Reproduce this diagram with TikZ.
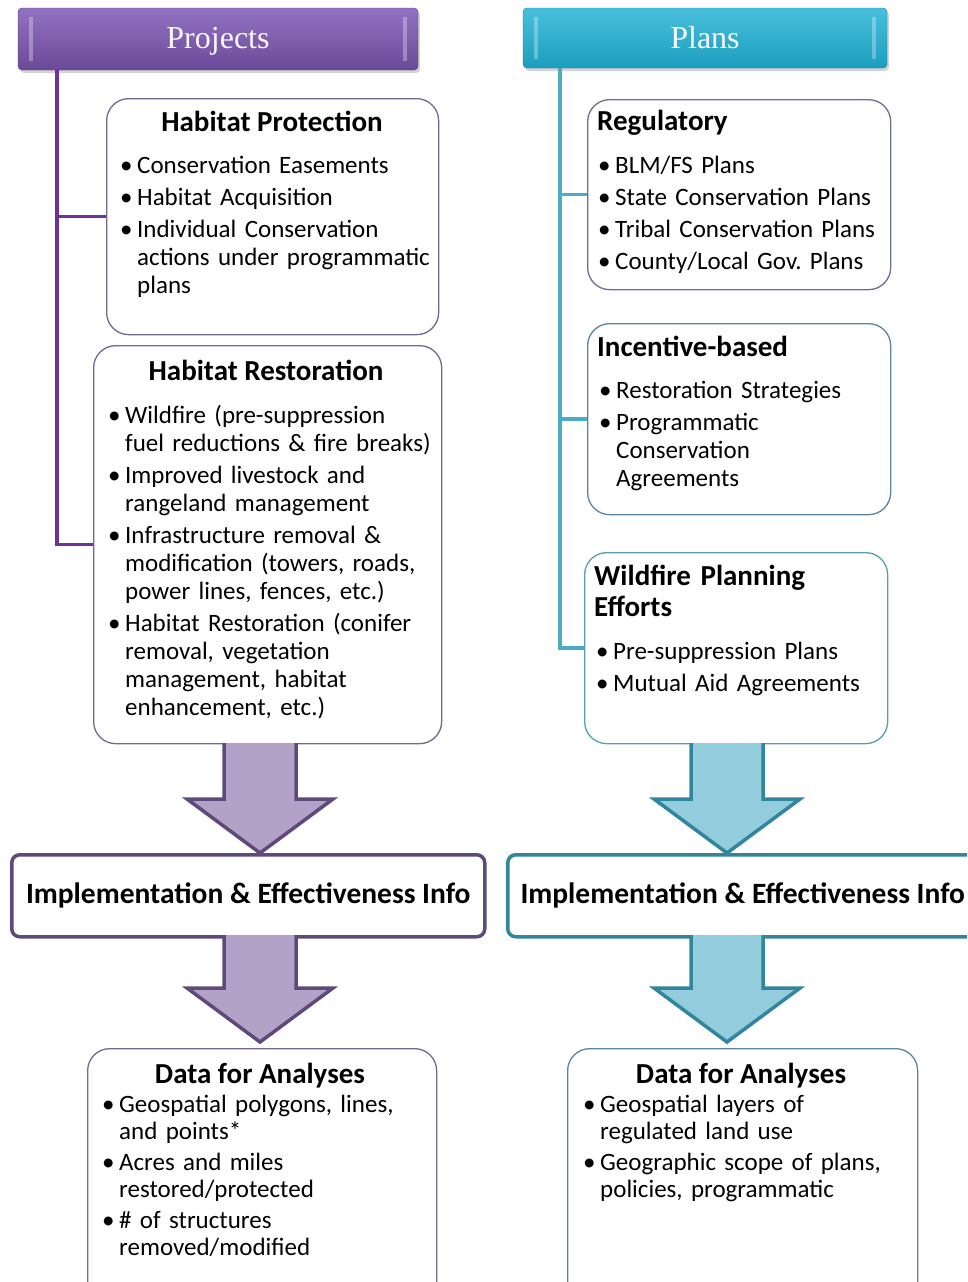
\documentclass[tikz,border=0pt]{standalone}
\usepackage{fontspec}
\setmainfont{Carlito}
\newfontfamily\headfont{Liberation Serif}
\usetikzlibrary{calc,shadows}

\definecolor{projdark}{HTML}{6A4A98}
\definecolor{projlight}{HTML}{9272C2}
\definecolor{plandark}{HTML}{1C9DBE}
\definecolor{planlight}{HTML}{48C0DC}
\definecolor{projline}{HTML}{7030A0}
\definecolor{planline}{HTML}{4BACC6}
\definecolor{projedge}{HTML}{5F497A}
\definecolor{planedge}{HTML}{31859C}
\definecolor{projfill}{HTML}{B3A2C7}
\definecolor{planfill}{HTML}{93CDDD}
\definecolor{projbox}{HTML}{75688F}
\definecolor{planbox}{HTML}{5C83A0}

% bullet item with hanging indent
\newcommand{\bitem}[1]{\hangindent=17pt\hangafter=1\noindent\makebox[17pt][l]{\textbullet}#1\par}

% big block arrow from one point down to another
\newcommand{\blockarrow}[3]{%
  \draw[#1] ($(#2)+(-36,0)$) -- ($(#3)+(-36,-54)$) -- ($(#3)+(-73,-54)$)
    -- (#3) -- ($(#3)+(73,-54)$) -- ($(#3)+(36,-54)$) -- ($(#2)+(36,0)$);
}

\tikzset{
  head/.style={rounded corners=4pt, minimum height=62, text=white!94!projlight,
    font=\headfont\fontsize{32}{36}\selectfont, text depth=2pt,
    drop shadow={shadow xshift=2pt, shadow yshift=-3pt, opacity=.35}},
  projhead/.style={head, top color=projlight, bottom color=projdark,
    draw=projdark!80!black, minimum width=400},
  planhead/.style={head, top color=planlight, bottom color=plandark,
    draw=plandark!80!black, minimum width=364, minimum height=60},
  bevel/.style={draw=white, opacity=.3, line width=4pt},
  card/.style={draw=#1, fill=white, rounded corners=22pt, line width=1.3pt,
    anchor=north west},
  implbox/.style={draw=#1, fill=white, rounded corners=8pt, line width=3.5pt,
    anchor=north west, minimum width=473, minimum height=82,
    font=\bfseries\fontsize{29.5}{31}\selectfont},
  ttl/.style={font=\bfseries\fontsize{29}{31}\selectfont, inner sep=0pt},
  lst/.style={font=\fontsize{25}{28}\selectfont, inner sep=0pt, text width=330,
    align=left, anchor=base west,
    execute at begin node={\setlength{\parskip}{4pt}\frenchspacing}},
  pline/.style={draw=projline, line width=3.5pt},
  qline/.style={draw=planline, line width=3.5pt},
  parrow/.style={fill=projfill, draw=projedge, line width=3.5pt},
  qarrow/.style={fill=planfill, draw=planedge, line width=3.5pt}
}

\begin{document}
\begin{tikzpicture}[x=1pt,y=-1pt]
\useasboundingbox (0,0) rectangle (967,1282);
\clip (0,0) rectangle (967,1282);

% headers
\node[projhead] (proj) at (218,39) {Projects};
\node[planhead] (plan) at (705,38) {Plans};
\draw[bevel] ([xshift=13pt,yshift=-9pt]proj.north west) -- ([xshift=13pt,yshift=9pt]proj.south west);
\draw[bevel] ([xshift=-13pt,yshift=-9pt]proj.north east) -- ([xshift=-13pt,yshift=9pt]proj.south east);
\draw[bevel] ([xshift=13pt,yshift=-9pt]plan.north west) -- ([xshift=13pt,yshift=9pt]plan.south west);
\draw[bevel] ([xshift=-13pt,yshift=-9pt]plan.north east) -- ([xshift=-13pt,yshift=9pt]plan.south east);

% cards on the left
\node[card=projbox, minimum width=332, minimum height=236] (hp) at (106,98) {};
\node[card=projbox, minimum width=348, minimum height=398] (hr) at (93,345) {};
% cards on the right
\node[card=projbox!70!planbox, minimum width=303, minimum height=190] (reg) at (587,99) {};
\node[card=planbox, minimum width=303, minimum height=191] (inc) at (587,323) {};
\node[card=planedge!80, minimum width=303, minimum height=191] (wf) at (584,552) {};

% trunks
\coordinate (ltr) at ([xshift=39pt]proj.south west);
\coordinate (rtr) at ([xshift=37pt]plan.south west);
\draw[pline] (ltr) |- (hp.west);
\draw[pline] (ltr) |- (hr.west);
\draw[qline] (rtr) |- (reg.west);
\draw[qline] (rtr) |- (inc.west);
\draw[qline] (rtr) |- (wf.west);

% texts of the cards
\node[ttl, anchor=base] (hpt) at (272,131) {Habitat Protection};
\node[lst] (hpl) at (120,173) {%
  \bitem{Conservation Easements}
  \bitem{Habitat Acquisition}
  \bitem{Individual Conservation\newline actions under programmatic\newline plans}};

\node[ttl, anchor=base] (hrt) at (266,380) {Habitat Restoration};
\node[lst] (hrl) at (108,423) {%
  \bitem{Wildfire (pre-suppression\newline fuel reductions \& fire breaks)}
  \bitem{Improved livestock and\newline rangeland management}
  \bitem{Infrastructure removal \&\newline modification (towers, roads,\newline power lines, fences, etc.)}
  \bitem{Habitat Restoration (conifer\newline removal, vegetation\newline management, habitat\newline enhancement, etc.)}};

\node[ttl, anchor=base west] (regt) at (597,130) {Regulatory};
\node[lst] (regl) at (598,173) {%
  \bitem{BLM/FS Plans}
  \bitem{State Conservation Plans}
  \bitem{Tribal Conservation Plans}
  \bitem{County/Local Gov. Plans}};

\node[ttl, anchor=base west] (inct) at (597,356) {Incentive-based};
\node[lst] (incl) at (599,398) {%
  \bitem{Restoration Strategies}
  \bitem{Programmatic\newline Conservation\newline Agreements}};

\node[ttl, anchor=base west, text width=280, align=left] (wft) at (594,585)
  {Wildfire Planning\\Efforts};
\node[lst] (wfl) at (596,659) {%
  \bitem{Pre-suppression Plans}
  \bitem{Mutual Aid Agreements}};

% implementation boxes
\node[implbox=projedge] (impll) at (10,853) {Implementation \& Effectiveness Info};
\node[implbox=planedge, minimum width=470] (implr) at (506,853) {Implementation \& Effectiveness Info};

% data boxes
\node[card=projbox, minimum width=349, minimum height=260] (datl) at (87,1048) {};
\node[card=planbox, minimum width=350, minimum height=260] (datr) at (567,1048) {};

\node[ttl, anchor=base] (datlt) at (260,1083) {Data for Analyses};
\node[lst, font=\fontsize{25}{27}\selectfont] (datll) at (102,1112) {%
  \bitem{Geospatial polygons, lines,\newline and points*}
  \bitem{Acres and miles\newline restored/protected}
  \bitem{\# of structures\newline removed/modified}};

\node[ttl, anchor=base] (datrt) at (741,1083) {Data for Analyses};
\node[lst, font=\fontsize{25}{27}\selectfont] (datrl) at (583,1112) {%
  \bitem{Geospatial layers of\newline regulated land use}
  \bitem{Geographic scope of plans,\newline policies, programmatic}};

% block arrows
\coordinate (la1) at (260,743);
\coordinate (la2) at (260,935);
\coordinate (ra1) at (727,743);
\coordinate (ra2) at (727,935);
\blockarrow{parrow}{la1}{la1 |- impll.north}
\blockarrow{parrow}{la2}{260,1042}
\blockarrow{qarrow}{ra1}{ra1 |- implr.north}
\blockarrow{qarrow}{ra2}{727,1042}
\end{tikzpicture}
\end{document}
